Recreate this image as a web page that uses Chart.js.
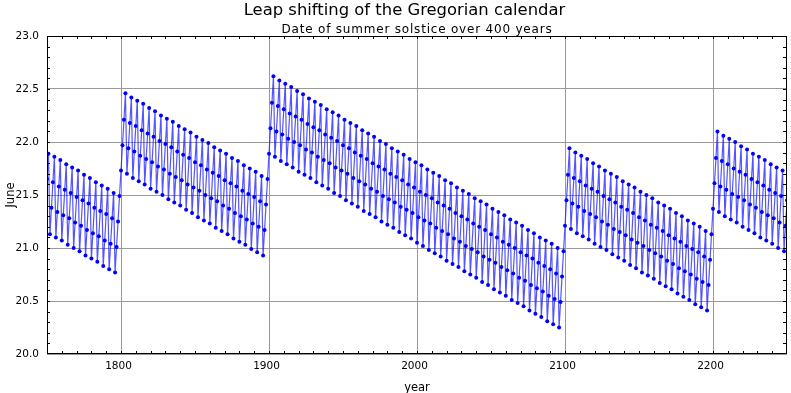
<!DOCTYPE html>
<html>
<head>
<meta charset="utf-8">
<script src="https://cdn.jsdelivr.net/npm/chart.js@4"></script>
<style>
  body { margin: 0; background: #fff; }
</style>
</head>
<body>
<canvas id="chart" width="791" height="393"></canvas>
<script>
const titleText = 'Leap shifting of the Gregorian calendar';
const subtitleText = 'Date of summer solstice over 400 years';

const firstYear = 1750;

// day of June of the summer solstice, one value per year
const june1750 = [ // 1750-1799
    21.65, 21.89,
    21.13, 21.38, 21.62, 21.86, 21.10, 21.34, 21.58, 21.83, 21.07, 21.31, 21.55, 21.79, 21.03, 21.28, 21.52, 21.76,
    21.00, 21.24, 21.48, 21.73, 20.97, 21.21, 21.45, 21.69, 20.93, 21.17, 21.42, 21.66, 20.90, 21.14, 21.38, 21.62,
    20.87, 21.11, 21.35, 21.59, 20.83, 21.07, 21.32, 21.56, 20.80, 21.04, 21.28, 21.52, 20.77, 21.01, 21.25, 21.49
];
const june1800 = [ // 1800-1899
    21.73, 21.97, 22.21, 22.46,
    21.70, 21.94, 22.18, 22.42, 21.66, 21.91, 22.15, 22.39, 21.63, 21.87, 22.11, 22.36, 21.60, 21.84, 22.08, 22.32,
    21.56, 21.81, 22.05, 22.29, 21.53, 21.77, 22.01, 22.25, 21.50, 21.74, 21.98, 22.22, 21.46, 21.70, 21.95, 22.19,
    21.43, 21.67, 21.91, 22.15, 21.40, 21.64, 21.88, 22.12, 21.36, 21.60, 21.85, 22.09, 21.33, 21.57, 21.81, 22.05,
    21.29, 21.54, 21.78, 22.02, 21.26, 21.50, 21.74, 21.99, 21.23, 21.47, 21.71, 21.95, 21.19, 21.44, 21.68, 21.92,
    21.16, 21.40, 21.64, 21.89, 21.13, 21.37, 21.61, 21.85, 21.09, 21.33, 21.58, 21.82, 21.06, 21.30, 21.54, 21.78,
    21.03, 21.27, 21.51, 21.75, 20.99, 21.23, 21.48, 21.72, 20.96, 21.20, 21.44, 21.68, 20.93, 21.17, 21.41, 21.65
];
const june1900 = [ // 1900-2099
    21.89, 22.13, 22.37, 22.62,
    21.86, 22.10, 22.34, 22.58, 21.82, 22.07, 22.31, 22.55, 21.79, 22.03, 22.27, 22.52, 21.76, 22.00, 22.24, 22.48,
    21.72, 21.97, 22.21, 22.45, 21.69, 21.93, 22.17, 22.41, 21.66, 21.90, 22.14, 22.38, 21.62, 21.86, 22.11, 22.35,
    21.59, 21.83, 22.07, 22.31, 21.56, 21.80, 22.04, 22.28, 21.52, 21.76, 22.01, 22.25, 21.49, 21.73, 21.97, 22.21,
    21.45, 21.70, 21.94, 22.18, 21.42, 21.66, 21.90, 22.15, 21.39, 21.63, 21.87, 22.11, 21.35, 21.60, 21.84, 22.08,
    21.32, 21.56, 21.80, 22.05, 21.29, 21.53, 21.77, 22.01, 21.25, 21.49, 21.74, 21.98, 21.22, 21.46, 21.70, 21.94,
    21.19, 21.43, 21.67, 21.91, 21.15, 21.39, 21.64, 21.88, 21.12, 21.36, 21.60, 21.84, 21.09, 21.33, 21.57, 21.81,
    21.05, 21.29, 21.53, 21.78, 21.02, 21.26, 21.50, 21.74, 20.98, 21.23, 21.47, 21.71, 20.95, 21.19, 21.43, 21.68,
    20.92, 21.16, 21.40, 21.64, 20.88, 21.13, 21.37, 21.61, 20.85, 21.09, 21.33, 21.57, 20.82, 21.06, 21.30, 21.54,
    20.78, 21.02, 21.27, 21.51, 20.75, 20.99, 21.23, 21.47, 20.72, 20.96, 21.20, 21.44, 20.68, 20.92, 21.17, 21.41,
    20.65, 20.89, 21.13, 21.37, 20.61, 20.86, 21.10, 21.34, 20.58, 20.82, 21.06, 21.31, 20.55, 20.79, 21.03, 21.27,
    20.51, 20.76, 21.00, 21.24, 20.48, 20.72, 20.96, 21.21, 20.45, 20.69, 20.93, 21.17, 20.41, 20.65, 20.90, 21.14,
    20.38, 20.62, 20.86, 21.10, 20.35, 20.59, 20.83, 21.07, 20.31, 20.55, 20.80, 21.04, 20.28, 20.52, 20.76, 21.00,
    20.25, 20.49, 20.73, 20.97
];
const june2100 = [ // 2100-2199
    21.21, 21.45, 21.69, 21.94,
    21.18, 21.42, 21.66, 21.90, 21.14, 21.39, 21.63, 21.87, 21.11, 21.35, 21.59, 21.84, 21.08, 21.32, 21.56, 21.80,
    21.04, 21.29, 21.53, 21.77, 21.01, 21.25, 21.49, 21.73, 20.98, 21.22, 21.46, 21.70, 20.94, 21.18, 21.43, 21.67,
    20.91, 21.15, 21.39, 21.63, 20.88, 21.12, 21.36, 21.60, 20.84, 21.08, 21.33, 21.57, 20.81, 21.05, 21.29, 21.53,
    20.77, 21.02, 21.26, 21.50, 20.74, 20.98, 21.22, 21.47, 20.71, 20.95, 21.19, 21.43, 20.67, 20.92, 21.16, 21.40,
    20.64, 20.88, 21.12, 21.37, 20.61, 20.85, 21.09, 21.33, 20.57, 20.81, 21.06, 21.30, 20.54, 20.78, 21.02, 21.26,
    20.51, 20.75, 20.99, 21.23, 20.47, 20.71, 20.96, 21.20, 20.44, 20.68, 20.92, 21.16, 20.41, 20.65, 20.89, 21.13
];
const june2200 = [ // 2200-2250
    21.37, 21.61, 21.85, 22.10,
    21.34, 21.58, 21.82, 22.06, 21.30, 21.55, 21.79, 22.03, 21.27, 21.51, 21.75, 22.00, 21.24, 21.48, 21.72, 21.96,
    21.20, 21.45, 21.69, 21.93, 21.17, 21.41, 21.65, 21.89, 21.14, 21.38, 21.62, 21.86, 21.10, 21.34, 21.59, 21.83,
    21.07, 21.31, 21.55, 21.79, 21.04, 21.28, 21.52, 21.76, 21.00, 21.24, 21.49, 21.73, 20.97, 21.21, 21.45
];

const xTicks = [1800, 1900, 2000, 2100, 2200];
const yTicks = [20.0, 20.5, 21.0, 21.5, 22.0, 22.5, 23.0];

const juneDays = [].concat(june1750, june1800, june1900, june2100, june2200);
const points = juneDays.map((v, i) => ({x: firstYear + i, y: v}));

const font = 'DejaVu Sans';

// title + subtitle
const headings = {
    id: 'headings',
    afterDraw(chart) {
        const ctx = chart.ctx;
        ctx.save();
        ctx.fillStyle = '#000';
        ctx.textAlign = 'center';
        ctx.textBaseline = 'alphabetic';
        ctx.font = '16.4px "' + font + '"';
        ctx.fillText(titleText, 404.5, 15);
        ctx.font = '12px "' + font + '"';
        ctx.letterSpacing = '0.8px';
        ctx.fillText(subtitleText, 417, 33);
        ctx.restore();
    }
};

// black box round the plot with small inward ticks
const frame = {
    id: 'frame',
    afterDraw(chart) {
        const {ctx, chartArea: a, scales: {x, y}} = chart;
        ctx.save();
        ctx.strokeStyle = '#000';
        ctx.lineWidth = 1;
        ctx.beginPath();
        for (let yr = 1760; yr < 2250; yr += 10) {
            const px = Math.round(x.getPixelForValue(yr)) + 0.5;
            ctx.moveTo(px, a.top); ctx.lineTo(px, a.top + 3);
            ctx.moveTo(px, a.bottom); ctx.lineTo(px, a.bottom - 3);
        }
        for (let k = 201; k < 230; k++) {
            const py = Math.round(y.getPixelForValue(k / 10)) + 0.5;
            ctx.moveTo(a.left, py); ctx.lineTo(a.left + 3, py);
            ctx.moveTo(a.right, py); ctx.lineTo(a.right - 4, py);
        }
        ctx.stroke();
        ctx.strokeRect(a.left + 0.5, a.top + 0.5, a.right - a.left - 1, a.bottom - a.top - 1);
        ctx.restore();
    }
};

new Chart(document.getElementById('chart'), {
    type: 'line',
    data: {
        datasets: [{
            data: points,
            borderColor: 'rgba(20,20,255,0.72)',
            borderWidth: 1.2,
            pointRadius: 2,
            pointBackgroundColor: '#0000ff',
            pointBorderWidth: 0,
            tension: 0
        }]
    },
    options: {
        responsive: false,
        animation: false,
        layout: { padding: { top: 36, right: 1, left: 0, bottom: 0 } },
        plugins: { legend: { display: false }, tooltip: { enabled: false } },
        scales: {
            x: {
                type: 'linear',
                min: 1750,
                max: 2250,
                afterBuildTicks: s => { s.ticks = xTicks.map(v => ({value: v})); },
                afterFit: s => { s.height = 39; },
                grid: { color: '#999', drawTicks: false },
                border: { display: false },
                ticks: {
                    color: '#000',
                    font: { family: font, size: 10.5 },
                    padding: 6,
                    maxRotation: 0,
                    autoSkip: false,
                    labelOffset: -2.5,
                    callback: v => String(v)
                },
                title: {
                    display: true, text: 'year', color: '#000',
                    font: { family: font, size: 11.5, lineHeight: 1 },
                    padding: { top: 0, bottom: -1 }
                }
            },
            y: {
                min: 20,
                max: 23,
                afterBuildTicks: s => { s.ticks = yTicks.map(v => ({value: v})); },
                afterFit: s => { s.width = 47; },
                grid: { color: '#999', drawTicks: false },
                border: { display: false },
                ticks: {
                    color: '#000',
                    font: { family: font, size: 10.5 },
                    padding: 8,
                    callback: v => v.toFixed(1)
                },
                title: {
                    display: true, text: 'June', color: '#000',
                    font: { family: font, size: 11.5, lineHeight: 1 },
                    padding: { top: 5, bottom: 0 }
                }
            }
        }
    },
    plugins: [headings, frame]
});
</script>
</body>
</html>
